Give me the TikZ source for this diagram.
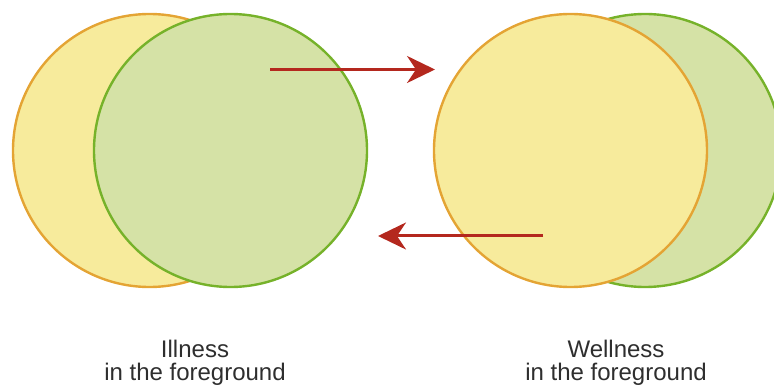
\documentclass[tikz,border=0pt]{standalone}
\usepackage{fontspec}
\setmainfont{Liberation Sans}
\usetikzlibrary{arrows.meta}
\definecolor{yfill}{RGB}{247,235,156}
\definecolor{ydraw}{RGB}{228,164,52}
\definecolor{gfill}{RGB}{213,226,166}
\definecolor{gdraw}{RGB}{118,178,42}
\definecolor{arrred}{RGB}{180,40,30}
\tikzset{
  ycirc/.style={circle, fill=yfill, draw=ydraw, line width=2.4pt, minimum size=273pt, inner sep=0pt},
  gcirc/.style={circle, fill=gfill, draw=gdraw, line width=2.4pt, minimum size=273pt, inner sep=0pt},
  flow/.style={draw=arrred, line width=3pt, -{Stealth[length=28pt, width=27pt, inset=9pt]}},
  caption/.style={font=\fontsize{24}{23}\selectfont, align=center, inner sep=0pt, text=black!82}
}
\begin{document}
\begin{tikzpicture}[x=1pt, y=-1pt]
\useasboundingbox (0,0) rectangle (774,387);
\clip (0,0) rectangle (774,387);
% left pair: illness in front
\node[ycirc] (wellL) at (149.5,150.5) {};
\node[gcirc] (illL) at (230.5,150.5) {};
% right pair: wellness in front
\node[gcirc] (illR) at (645,150.5) {};
\node[ycirc] (wellR) at (570.5,150.5) {};
% arrows
\coordinate (a1s) at (270,69.5);
\coordinate (a1e) at (435,69.5);
\coordinate (a2s) at (543,236);
\coordinate (a2e) at (378,236);
\draw[flow] (a1s) -- (a1e);
\draw[flow] (a2s) -- (a2e);
% captions
\node[caption] (capL) at (195,363) {Illness\\in the foreground};
\node[caption] (capR) at (616,363) {Wellness\\in the foreground};
\end{tikzpicture}
\end{document}
